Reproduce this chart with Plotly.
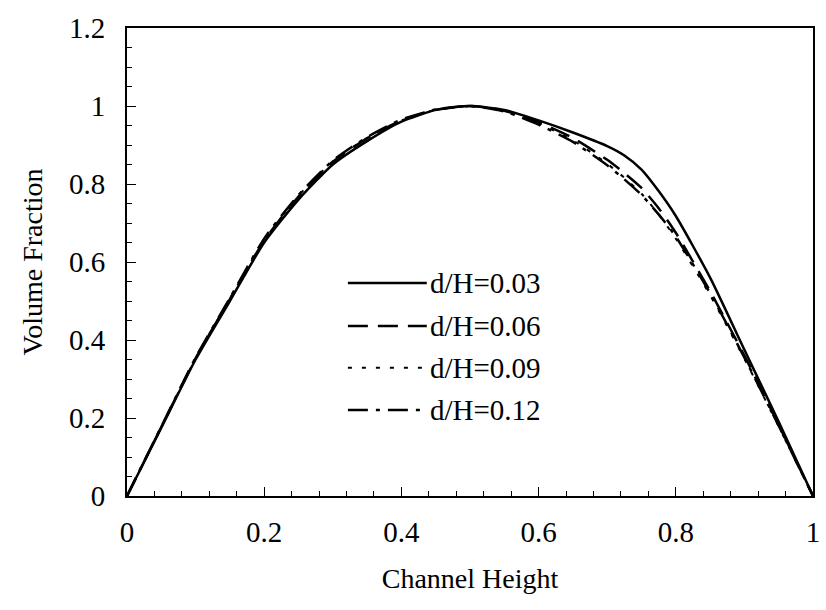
import plotly.graph_objects as go

x = [0, 0.05, 0.1, 0.15, 0.2, 0.25, 0.3, 0.35, 0.4, 0.45, 0.5,
     0.55, 0.6, 0.65, 0.7, 0.725, 0.75, 0.775, 0.8, 0.85, 0.9, 0.95, 1.0]

y_003 = [0, 0.175, 0.35, 0.50, 0.65, 0.76, 0.85, 0.91, 0.96, 0.99, 1.0,
         0.99, 0.963, 0.932, 0.897, 0.873, 0.837, 0.782, 0.718, 0.56, 0.375, 0.19, 0]
y_006 = [0, 0.177, 0.353, 0.505, 0.655, 0.768, 0.857, 0.917, 0.963, 0.99, 1.0,
         0.988, 0.958, 0.918, 0.862, 0.828, 0.79, 0.738, 0.675, 0.525, 0.36, 0.182, 0]
y_009 = [0, 0.177, 0.353, 0.506, 0.657, 0.77, 0.858, 0.918, 0.963, 0.99, 1.0,
         0.987, 0.955, 0.912, 0.852, 0.816, 0.775, 0.722, 0.66, 0.515, 0.352, 0.178, 0]
y_012 = [0, 0.178, 0.355, 0.508, 0.66, 0.772, 0.86, 0.92, 0.965, 0.991, 1.0,
         0.986, 0.952, 0.908, 0.848, 0.812, 0.772, 0.722, 0.665, 0.52, 0.355, 0.18, 0]

labels = ["d/H=0.03", "d/H=0.06", "d/H=0.09", "d/H=0.12"]
series = [y_003, y_006, y_009, y_012]
dashes = ["solid", "20px,10px", "4px,10px", "20px,8px,4px,8px"]
widths = [2.5, 2.5, 2, 2.5]

FONT = "Liberation Serif"

fig = go.Figure()
for lab, ys, d, w in zip(labels, series, dashes, widths):
    fig.add_trace(go.Scatter(x=x, y=ys, mode="lines", name=lab,
                             line=dict(color="black", width=w, dash=d, shape="spline", smoothing=0.6),
                             showlegend=False))

# manual legend (positions in paper coordinates)
leg_x0, leg_x1 = 0.322, 0.437
leg_y = [0.455, 0.363, 0.274, 0.184]
for lab, d, w, ly in zip(labels, dashes, widths, leg_y):
    fig.add_shape(type="line", xref="paper", yref="paper",
                  x0=leg_x0, x1=leg_x1, y0=ly, y1=ly,
                  line=dict(color="black", width=w, dash=d))
    fig.add_annotation(xref="paper", yref="paper", x=leg_x1 + 0.002, y=ly,
                       text=lab, showarrow=False, xanchor="left", yanchor="middle",
                       font=dict(family=FONT, size=29, color="black"))

tickfont = dict(family=FONT, size=29, color="black")

fig.update_layout(
    width=826, height=610,
    margin=dict(l=127, r=6, t=28, b=114),
    paper_bgcolor="white", plot_bgcolor="white",
    font=dict(family=FONT, size=29, color="black"),
)
fig.update_xaxes(range=[0, 1], dtick=0.2, tick0=0, showgrid=False, zeroline=False,
                 showline=True, mirror=True, linecolor="black", linewidth=2,
                 ticks="inside", ticklen=9, tickwidth=1, tickcolor="black",
                 minor=dict(dtick=0.04, ticks="inside", ticklen=5, tickcolor="black", showgrid=False),
                 tickformat="~g", ticklabelstandoff=9, tickfont=tickfont,
                 title=dict(text="Channel Height", standoff=22, font=dict(family=FONT, size=28)))
fig.update_yaxes(range=[0, 1.2], dtick=0.2, tick0=0, showgrid=False, zeroline=False,
                 showline=True, mirror=True, linecolor="black", linewidth=2,
                 ticks="inside", ticklen=9, tickwidth=1, tickcolor="black",
                 minor=dict(dtick=0.05, ticks="inside", ticklen=5, tickcolor="black", showgrid=False),
                 tickformat="~g", ticklabelstandoff=14, tickfont=tickfont,
                 title=dict(text="Volume Fraction", standoff=18, font=dict(family=FONT, size=28)))

fig.write_html("out.html")
